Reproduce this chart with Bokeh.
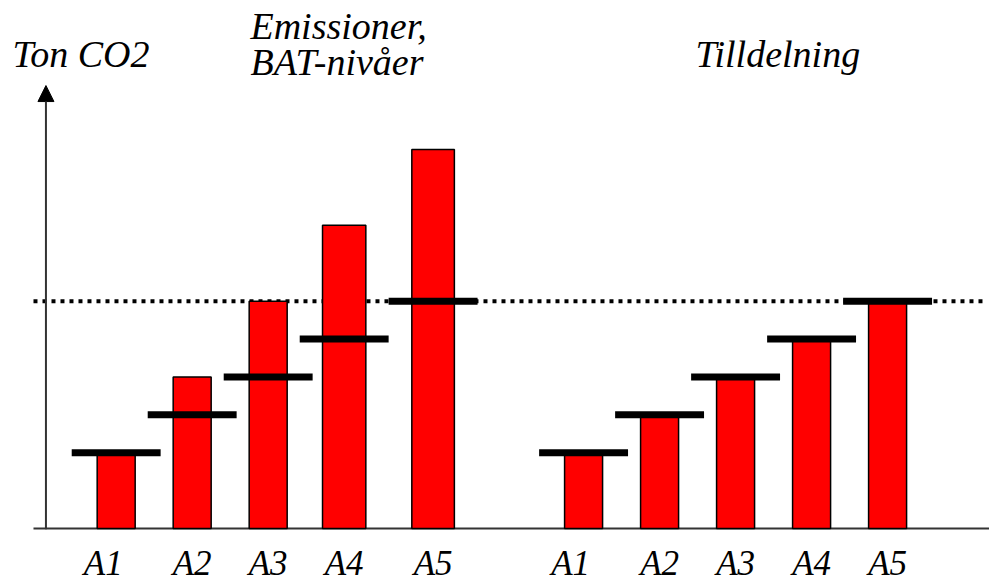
import numpy as np
from bokeh.plotting import figure
from bokeh.models import Range1d, Arrow, NormalHead, ColumnDataSource
from bokeh.core.properties import value
from bokeh.embed import file_html
from bokeh.resources import INLINE

# ---- data ----
categories = ["A1", "A2", "A3", "A4", "A5"]
emissions = [1.0, 2.0, 3.0, 4.0, 5.0]          # left group bars
bat_levels = [1.0, 1.5, 2.0, 2.5, 3.0]         # thick black lines, left group
allocation = [1.0, 1.5, 2.0, 2.5, 3.0]         # right group bars (= BAT levels)
cap_level = 3.0                                 # dotted line
y_label = "Ton CO2"
title_left = ["Emissioner,", "BAT-nivåer"]
title_right = "Tilldelning"

# ---- layout (slot units) ----
left_x = np.arange(5, dtype=float)
left_x[4] += 0.17
right_x = 6.15 + np.arange(5, dtype=float)
left_w = [0.5, 0.5, 0.5, 0.57, 0.56]
right_w = [0.5] * 5
line_half = 0.585

W, H = 989, 582
p = figure(width=W, height=H, output_backend="svg", toolbar_location=None,
           x_range=Range1d(-1.522, 11.491), y_range=Range1d(-0.712, 6.966),
           x_axis_location=None, y_axis_location=None, min_border=0)
p.outline_line_color = None
p.xgrid.visible = False
p.ygrid.visible = False
p.background_fill_color = "white"
p.border_fill_color = "white"

FONT = value("'Liberation Serif', 'Times New Roman', serif")

# dotted cap line
p.segment(x0=[-1.088], y0=[cap_level], x1=[11.464], y1=[cap_level],
          line_color="black", line_width=4, line_dash="4 5", line_cap="butt")

# x axis line
p.segment(x0=[-1.088], y0=[0], x1=[11.6], y1=[0], line_color="#333333", line_width=2)

# y axis with arrow
p.add_layout(Arrow(end=NormalHead(size=16, fill_color="black", line_color="black", line_width=1),
                   x_start=-0.924, y_start=-0.01, x_end=-0.924, y_end=5.844,
                   line_color="#333333", line_width=2))

# bars
src_l = ColumnDataSource(dict(x=left_x, top=emissions, w=left_w))
p.vbar(x="x", top="top", bottom=0, width="w", source=src_l,
       fill_color="#FF0000", line_color="black", line_width=1.5)
src_r = ColumnDataSource(dict(x=right_x, top=allocation, w=right_w))
p.vbar(x="x", top="top", bottom=0, width="w", source=src_r,
       fill_color="#FF0000", line_color="black", line_width=1.5)

# BAT level lines
p.segment(x0=left_x - line_half, y0=bat_levels, x1=left_x + line_half, y1=bat_levels,
          line_color="black", line_width=7, line_cap="butt")
p.segment(x0=right_x - line_half, y0=allocation, x1=right_x + line_half, y1=allocation,
          line_color="black", line_width=7, line_cap="butt")

# category labels
lab_off = np.array([-0.17, 0, 0, 0, 0])
p.text(x=np.concatenate([left_x + lab_off, right_x + lab_off]), y=[-0.455] * 10,
       text=categories + categories, text_font=FONT, text_font_style="italic",
       text_font_size="35px", text_align="center", text_baseline="alphabetic",
       text_color="black")

# titles
p.text(x=[-1.364], y=[6.266], text=[y_label], text_font=FONT, text_font_style="italic",
       text_font_size="38px", text_align="left", text_baseline="alphabetic", text_color="black")
p.text(x=[1.767, 1.767], y=[6.635, 6.161], text=title_left, text_font=FONT,
       text_font_style="italic", text_font_size="38px", text_align="left",
       text_baseline="alphabetic", text_color="black")
p.text(x=[7.622], y=[6.266], text=[title_right], text_font=FONT, text_font_style="italic",
       text_font_size="38px", text_align="left", text_baseline="alphabetic", text_color="black")

open("out.html", "w").write(file_html(p, INLINE))
